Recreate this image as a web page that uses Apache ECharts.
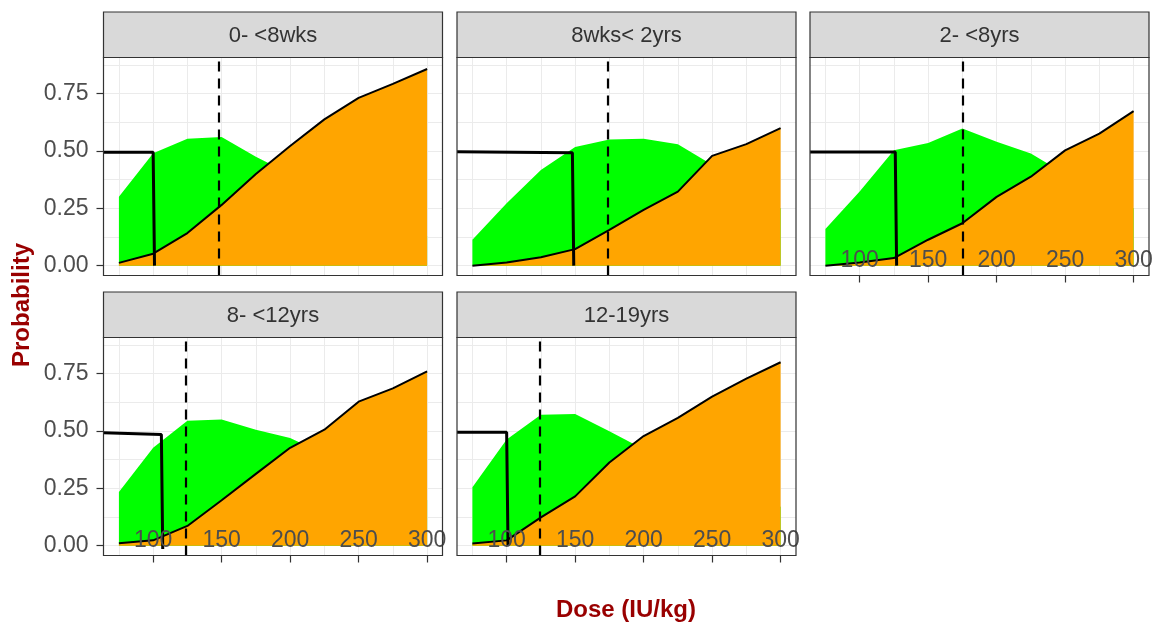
<!DOCTYPE html>
<html>
<head>
<meta charset="utf-8">
<title>Probability by dose</title>
<script src="https://cdn.jsdelivr.net/npm/echarts@6.0.0/dist/echarts.min.js"></script>
<style>
  html, body { margin: 0; padding: 0; background: #fff; }
  #chart { width: 1156px; height: 627px; }
</style>
</head>
<body>
<div id="chart"></div>
<script>
// ---- Data ----
var panelNames = ['0- <8wks', '8wks< 2yrs', '2- <8yrs', '8- <12yrs', '12-19yrs'];
var dose = [75, 100, 125, 150, 175, 200, 225, 250, 275, 300];

// green area (upper curve) per age group
var green_0_8wks  = [0.30, 0.49, 0.554, 0.561, 0.475, 0.40, 0.32, 0.25, 0.18, 0.13];
var green_8wk_2yr = [0.113, 0.272, 0.417, 0.518, 0.55, 0.554, 0.53, 0.44, 0.34, 0.25];
var green_2_8yrs  = [0.16, 0.323, 0.503, 0.535, 0.598, 0.54, 0.489, 0.40, 0.32, 0.25];
var green_8_12yrs = [0.234, 0.427, 0.545, 0.55, 0.506, 0.47, 0.40, 0.32, 0.26, 0.20];
var green_12_19yr = [0.255, 0.463, 0.571, 0.574, 0.499, 0.42, 0.35, 0.28, 0.22, 0.17];

// orange area (black outlined curve) per age group
var orange_0_8wks  = [0.012, 0.052, 0.142, 0.265, 0.40, 0.522, 0.638, 0.732, 0.793, 0.858];
var orange_8wk_2yr = [0.0, 0.014, 0.037, 0.072, 0.156, 0.243, 0.323, 0.479, 0.53, 0.60];
var orange_2_8yrs  = [0.0, 0.014, 0.033, 0.113, 0.185, 0.30, 0.388, 0.503, 0.576, 0.674];
var orange_8_12yrs = [0.01, 0.023, 0.086, 0.198, 0.313, 0.427, 0.506, 0.628, 0.686, 0.76];
var orange_12_19yr = [0.009, 0.023, 0.123, 0.215, 0.363, 0.478, 0.557, 0.65, 0.729, 0.80];

// step line: level before the cut, dose where it drops, end value after the drop
var stepLevelStart = [0.495, 0.497, 0.496, 0.493, 0.495];
var stepLevelEnd   = [0.495, 0.492, 0.496, 0.485, 0.495];
var stepDose       = [100, 148, 126, 106, 100];
var stepDrop       = [0, 0, 0, -0.015, 0];

// dashed reference dose
var refDose = [148, 174, 175, 124, 124];

// axis ticks
var doseTicks = [100, 150, 200, 250, 300];
var doseGrid  = [75, 100, 125, 150, 175, 200, 225, 250, 275, 300];
var probTicks = [0, 0.25, 0.5, 0.75];
var probGrid  = [0, 0.125, 0.25, 0.375, 0.5, 0.625, 0.75, 0.875];

var greens  = [green_0_8wks, green_8wk_2yr, green_2_8yrs, green_8_12yrs, green_12_19yr];
var oranges = [orange_0_8wks, orange_8wk_2yr, orange_2_8yrs, orange_8_12yrs, orange_12_19yr];

// ---- Layout ----
var xMin = 63.75, xMax = 311.25, yMin = -0.043, yMax = 0.908;
var colLeft = [103.5, 457, 810];
var rowTop = [57.5, 337.5];
var panelW = 339, panelH = 218, stripH = 45.5;
var fontFamily = 'Liberation Sans, Arial, sans-serif';

function pairs(xs, ys) {
    return xs.map(function (x, k) { return [x, ys[k]]; });
}

var grids = [], xAxes = [], yAxes = [], series = [], graphics = [];

panelNames.forEach(function (name, i) {
    var col = i % 3, row = Math.floor(i / 3);
    var left = colLeft[col], top = rowTop[row];
    var showX = i >= 2, showY = col === 0;

    grids.push({ left: left, top: top, width: panelW, height: panelH });

    // labels / ticks axis
    xAxes.push({
        gridIndex: i, type: 'value', min: xMin, max: xMax, z: 10,
        axisLine: { show: false, onZero: false },
        axisTick: { show: showX, length: 7, customValues: doseTicks, lineStyle: { color: '#333', width: 1.2 } },
        axisLabel: { show: showX, inside: true, margin: 3, customValues: doseTicks,
            fontSize: 23, color: '#4d4d4d', fontFamily: fontFamily },
        splitLine: { show: false }
    });
    // grid lines axis
    xAxes.push({
        gridIndex: i, type: 'value', min: xMin, max: xMax,
        axisLine: { show: false, onZero: false },
        axisTick: { show: false, customValues: doseGrid },
        axisLabel: { show: false },
        splitLine: { show: true, lineStyle: { color: '#EBEBEB', width: 1 } }
    });

    yAxes.push({
        gridIndex: i, type: 'value', min: yMin, max: yMax,
        axisLine: { show: false, onZero: false },
        axisTick: { show: showY, length: 7, customValues: probTicks, lineStyle: { color: '#333', width: 1.2 } },
        axisLabel: { show: showY, margin: 15, customValues: probTicks,
            fontSize: 23, color: '#4d4d4d', fontFamily: fontFamily,
            formatter: function (v) { return v.toFixed(2); } },
        splitLine: { show: false }
    });
    yAxes.push({
        gridIndex: i, type: 'value', min: yMin, max: yMax,
        axisLine: { show: false, onZero: false },
        axisTick: { show: false, customValues: probGrid },
        axisLabel: { show: false },
        splitLine: { show: true, lineStyle: { color: '#EBEBEB', width: 1 } }
    });

    var xi = 2 * i;

    series.push({
        type: 'line', xAxisIndex: xi, yAxisIndex: xi, z: 2,
        data: pairs(dose, greens[i]), symbol: 'none',
        lineStyle: { width: 0 },
        areaStyle: { color: '#00FF00', opacity: 1 }
    });
    series.push({
        type: 'line', xAxisIndex: xi, yAxisIndex: xi, z: 3,
        data: pairs(dose, oranges[i]), symbol: 'none',
        lineStyle: { color: '#000', width: 2 },
        areaStyle: { color: '#FFA500', opacity: 1 }
    });
    series.push({
        type: 'line', xAxisIndex: xi, yAxisIndex: xi, z: 4,
        data: [[xMin, stepLevelStart[i]], [stepDose[i], stepLevelEnd[i]], [stepDose[i] + 1, stepDrop[i]]],
        symbol: 'none',
        lineStyle: { color: '#000', width: 3 },
        markLine: {
            silent: true, symbol: ['none', 'none'], label: { show: false },
            lineStyle: { color: '#000', width: 2.2, type: [10, 7] },
            data: [{ xAxis: refDose[i] }]
        }
    });

    // strip and panel border
    graphics.push({
        type: 'rect', z: 100,
        shape: { x: left, y: top - stripH, width: panelW, height: stripH },
        style: { fill: '#D9D9D9', stroke: '#333', lineWidth: 1.2 }
    });
    graphics.push({
        type: 'text', z: 101, x: left + panelW / 2, y: top - stripH / 2 + 1,
        style: { text: name, fontSize: 22, fontFamily: fontFamily, fill: '#333',
            align: 'center', verticalAlign: 'middle' }
    });
    graphics.push({
        type: 'rect', z: 100,
        shape: { x: left, y: top, width: panelW, height: panelH },
        style: { fill: null, stroke: '#333', lineWidth: 1.2 }
    });
});

graphics.push({
    type: 'text', z: 101, x: 22, y: 305, rotation: Math.PI / 2,
    style: { text: 'Probability', fontSize: 24, fontWeight: 'bold', fontFamily: fontFamily,
        fill: '#990000', align: 'center', verticalAlign: 'middle' }
});
graphics.push({
    type: 'text', z: 101, x: 626, y: 610,
    style: { text: 'Dose (IU/kg)', fontSize: 24, fontWeight: 'bold', fontFamily: fontFamily,
        fill: '#990000', align: 'center', verticalAlign: 'middle' }
});

var chart = echarts.init(document.getElementById('chart'));
chart.setOption({
    animation: false,
    backgroundColor: '#fff',
    grid: grids,
    xAxis: xAxes,
    yAxis: yAxes,
    series: series,
    graphic: graphics
});
</script>
</body>
</html>
